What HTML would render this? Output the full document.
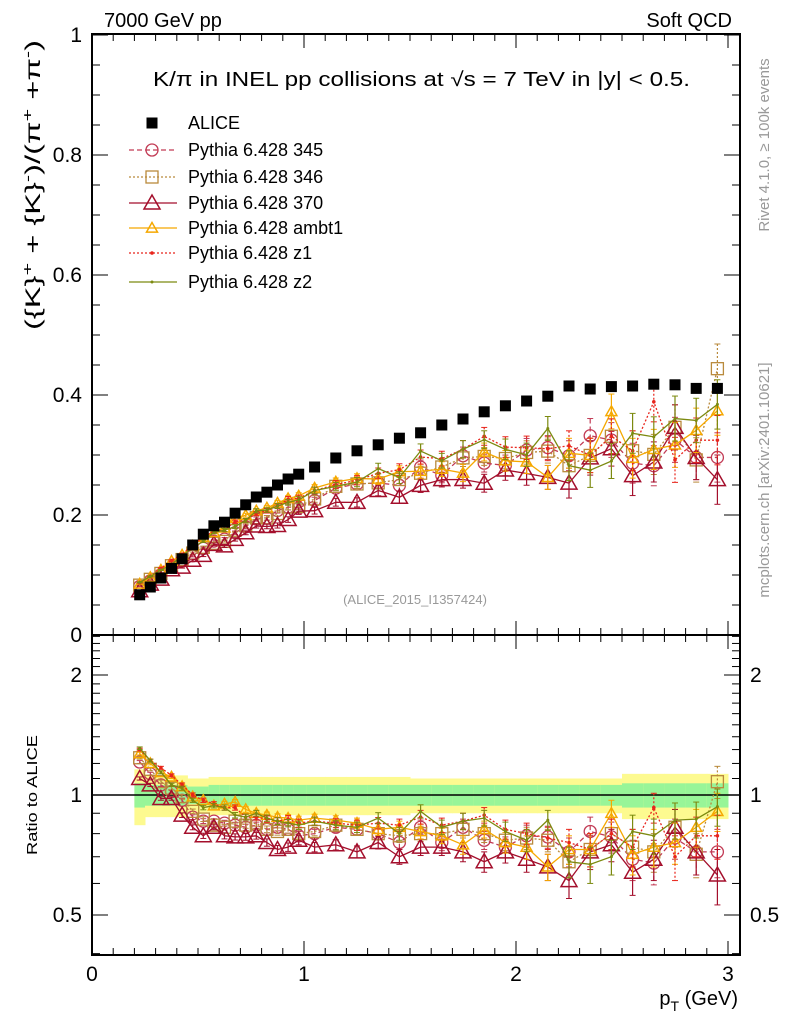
<!DOCTYPE html>
<html><head><meta charset="utf-8"><style>
html,body{margin:0;padding:0;background:#fff}
svg{display:block;font-family:"Liberation Sans",sans-serif}
</style></head><body>
<svg id="chart" width="786" height="1024" viewBox="0 0 786 1024" xmlns="http://www.w3.org/2000/svg">
<defs>
<clipPath id="clipMain"><rect x="92" y="34" width="648" height="601"/></clipPath>
<clipPath id="clipRatio"><rect x="92" y="635" width="648" height="320"/></clipPath>
</defs>
<g id="bands" clip-path="url(#clipRatio)"></g>
<g id="ticks"></g>
<line x1="92" y1="795" x2="740" y2="795" stroke="#000" stroke-width="1.5"/>
<g id="marksMain" clip-path="url(#clipMain)"></g>
<g id="marksRatio" clip-path="url(#clipRatio)"></g>
<rect x="92" y="34" width="648" height="601" fill="none" stroke="#000" stroke-width="2"/>
<rect x="92" y="635" width="648" height="320" fill="none" stroke="#000" stroke-width="2"/>
<text x="104" y="27" font-size="20">7000 GeV pp</text>
<text x="732" y="27" font-size="20" text-anchor="end">Soft QCD</text>
<text x="153" y="86" font-size="20" textLength="537" lengthAdjust="spacingAndGlyphs">K/π in INEL pp collisions at √s =  7 TeV in |y| &lt; 0.5.</text>
<text x="415" y="604" font-size="13" fill="#999" text-anchor="middle">(ALICE_2015_I1357424)</text>
<text transform="translate(40,185) rotate(-90)" font-size="21" text-anchor="middle" textLength="290" lengthAdjust="spacingAndGlyphs">({K}<tspan dy="-8" font-size="14">+</tspan><tspan dy="8"> + {K}</tspan><tspan dy="-8" font-size="14">-</tspan><tspan dy="8">)/(π</tspan><tspan dy="-8" font-size="14">+</tspan><tspan dy="8"> +π</tspan><tspan dy="-8" font-size="14">-</tspan><tspan dy="8">)</tspan></text>
<text transform="translate(37,795) rotate(-90)" font-size="15" text-anchor="middle" textLength="120" lengthAdjust="spacingAndGlyphs">Ratio to ALICE</text>
<text x="738" y="1005" font-size="20" text-anchor="end">p<tspan dy="6" font-size="14">T</tspan><tspan dy="-6"> (GeV)</tspan></text>
<text transform="translate(769,145) rotate(-90)" font-size="15" fill="#999" text-anchor="middle">Rivet 4.1.0, ≥ 100k events</text>
<text transform="translate(769,480) rotate(-90)" font-size="15" fill="#999" text-anchor="middle">mcplots.cern.ch [arXiv:2401.10621]</text>
<g id="legend"></g>
</svg>
<script>
const xCenters=[0.225,0.275,0.325,0.375,0.425,0.475,0.525,0.575,0.625,0.675,0.725,0.775,0.825,0.875,0.925,0.975,1.05,1.15,1.25,1.35,1.45,1.55,1.65,1.75,1.85,1.95,2.05,2.15,2.25,2.35,2.45,2.55,2.65,2.75,2.85,2.95];
const aliceVals=[0.067,0.080,0.095,0.111,0.127,0.150,0.168,0.182,0.188,0.203,0.217,0.230,0.238,0.250,0.260,0.268,0.280,0.295,0.307,0.317,0.328,0.337,0.350,0.360,0.372,0.382,0.390,0.398,0.415,0.410,0.414,0.415,0.418,0.417,0.411,0.411];
const bandYellow=[0.16,0.12,0.12,0.12,0.12,0.10,0.10,0.11,0.11,0.11,0.11,0.11,0.11,0.11,0.11,0.11,0.11,0.11,0.11,0.11,0.11,0.10,0.10,0.10,0.10,0.10,0.10,0.10,0.10,0.10,0.10,0.13,0.13,0.13,0.13,0.13];
const bandGreen=[0.07,0.06,0.06,0.06,0.06,0.05,0.05,0.06,0.06,0.06,0.06,0.06,0.06,0.06,0.06,0.06,0.06,0.06,0.06,0.06,0.06,0.06,0.06,0.06,0.06,0.06,0.06,0.06,0.06,0.06,0.06,0.07,0.07,0.07,0.07,0.07];
const mcErr=[0.01,0.01,0.01,0.01,0.012,0.012,0.012,0.012,0.014,0.014,0.015,0.015,0.016,0.017,0.018,0.02,0.02,0.022,0.025,0.028,0.03,0.035,0.035,0.04,0.04,0.045,0.05,0.05,0.06,0.07,0.07,0.08,0.08,0.09,0.09,0.1];
const r345=[1.21,1.13,1.06,1.02,0.97,0.88,0.86,0.86,0.85,0.84,0.83,0.84,0.82,0.83,0.82,0.79,0.80,0.83,0.82,0.80,0.76,0.83,0.76,0.83,0.77,0.74,0.79,0.785,0.72,0.81,0.785,0.69,0.675,0.78,0.72,0.72];
const r346=[1.24,1.16,1.08,1.04,0.99,0.91,0.87,0.84,0.83,0.86,0.84,0.85,0.82,0.81,0.82,0.80,0.81,0.84,0.82,0.80,0.79,0.80,0.80,0.82,0.80,0.77,0.78,0.77,0.68,0.73,0.80,0.74,0.72,0.83,0.71,1.08];
const r370=[1.10,1.06,0.98,0.98,0.89,0.83,0.79,0.83,0.79,0.785,0.785,0.79,0.76,0.73,0.74,0.77,0.74,0.75,0.72,0.76,0.70,0.74,0.74,0.72,0.68,0.72,0.69,0.66,0.61,0.72,0.75,0.64,0.69,0.83,0.72,0.63];
const rAmbt1=[1.27,1.20,1.14,1.11,1.05,0.99,0.97,0.94,0.95,0.96,0.92,0.90,0.89,0.88,0.875,0.865,0.875,0.865,0.85,0.82,0.83,0.81,0.79,0.75,0.82,0.76,0.74,0.66,0.73,0.73,0.90,0.71,0.74,0.76,0.83,0.91];
const rZ1=[1.30,1.22,1.17,1.12,1.06,1.00,0.97,0.95,0.93,0.93,0.88,0.88,0.87,0.86,0.87,0.85,0.86,0.85,0.84,0.85,0.84,0.88,0.84,0.86,0.89,0.82,0.80,0.78,0.76,0.73,0.80,0.74,0.93,0.70,0.79,0.79];
const rZ2=[1.31,1.22,1.14,1.06,1.04,0.97,0.93,0.94,0.93,0.89,0.88,0.90,0.875,0.86,0.85,0.84,0.86,0.84,0.83,0.875,0.80,0.91,0.83,0.86,0.875,0.81,0.77,0.865,0.68,0.67,0.70,0.81,0.79,0.865,0.87,0.935];
const seriesNames=["Pythia 6.428 345","Pythia 6.428 346","Pythia 6.428 370","Pythia 6.428 ambt1","Pythia 6.428 z1","Pythia 6.428 z2"];
const seriesKeys=["p345","p346","p370","ambt1","z1","z2"];
const seriesRatios=[r345,r346,r370,rAmbt1,rZ1,rZ2];
const mainTicksY=[0,0.2,0.4,0.6,0.8,1];
const mainTickLabels=["0","0.2","0.4","0.6","0.8","1"];
const ratioTicks=[0.5,1,2];
const ratioTickLabels=["0.5","1","2"];
const xTicks=[0,1,2,3];
const xTickLabels=["0","1","2","3"];

const styles=[
 {c:"#c23b55",dash:"5,3",m:"circle",s:6},
 {c:"#b98a3c",dash:"2,2",m:"square",s:6},
 {c:"#a40f2c",dash:"",m:"tri",s:8},
 {c:"#f5a800",dash:"",m:"tri",s:5.5},
 {c:"#e8251c",dash:"2,2",m:"dot",s:1.8},
 {c:"#7c8a10",dash:"",m:"dot",s:1.5}
];
const NS="http://www.w3.org/2000/svg";
const X=v=>92+212*v;
const Y=v=>635-600*v;
const R=v=>795-120*Math.log2(v);
function mk(tag,attrs,parent){const e=document.createElementNS(NS,tag);for(const k in attrs)e.setAttribute(k,attrs[k]);parent.appendChild(e);return e;}
function marker(g,type,x,y,s,c){
 let e;
 if(type==="circle")e=mk("circle",{cx:x,cy:y,r:s,fill:"none",stroke:c,"stroke-width":1.3},g);
 else if(type==="square")e=mk("rect",{x:x-s,y:y-s,width:2*s,height:2*s,fill:"none",stroke:c,"stroke-width":1.3},g);
 else if(type==="tri")e=mk("polygon",{points:`${x},${y-s} ${x-s},${y+s*0.75} ${x+s},${y+s*0.75}`,fill:"none",stroke:c,"stroke-width":1.5},g);
 else if(type==="sq-fill")e=mk("rect",{x:x-s,y:y-s,width:2*s,height:2*s,fill:c},g);
 else e=mk("circle",{cx:x,cy:y,r:s,fill:c},g);
 return e;
}
const ticks=document.getElementById("ticks");
const svg=document.getElementById("chart");
for(let i=0;i<=30;i++){const v=i/10;const x=X(v);const L=(i%10===0)?14:7;
 [[955,955-L],[635,635-L],[635,635+L],[34,34+L]].forEach(p=>mk("line",{x1:x,y1:p[0],x2:x,y2:p[1],stroke:"#000","stroke-width":1},ticks));}
xTicks.forEach((v,i)=>{const t=mk("text",{x:X(v),y:981,"font-size":21,"text-anchor":"middle"},svg);t.textContent=xTickLabels[i];

});
for(let i=0;i<=20;i++){const v=i/20;const y=Y(v);const L=(i%4===0)?16:8;
 mk("line",{x1:92,y1:y,x2:92+L,y2:y,stroke:"#000","stroke-width":1},ticks);
 mk("line",{x1:740,y1:y,x2:740-L,y2:y,stroke:"#000","stroke-width":1},ticks);}
mainTicksY.forEach((v,i)=>{const t=mk("text",{x:82,y:Y(v)+7,"font-size":21,"text-anchor":"end"},svg);t.textContent=mainTickLabels[i];

});
for(let k=4;k<=25;k++){const v=k/10;const y=R(v);if(y<636||y>954)continue;const maj=ratioTicks.some(t=>Math.abs(t-v)<1e-6);const L=maj?16:8;
 mk("line",{x1:92,y1:y,x2:92+L,y2:y,stroke:"#000","stroke-width":1},ticks);
 mk("line",{x1:740,y1:y,x2:740-L,y2:y,stroke:"#000","stroke-width":1},ticks);}
ratioTicks.forEach((v,i)=>{const t=mk("text",{x:82,y:R(v)+7,"font-size":21,"text-anchor":"end"},svg);t.textContent=ratioTickLabels[i];


const t2=mk("text",{x:750,y:R(v)+7,"font-size":21},svg);t2.textContent=ratioTickLabels[i];

});
const bands=document.getElementById("bands");
function edges(i){const lo=i===0?0.2:(xCenters[i-1]+xCenters[i])/2;const hi=i===xCenters.length-1?3.0:(xCenters[i]+xCenters[i+1])/2;return [lo,hi];}
xCenters.forEach((xc,i)=>{const [lo,hi]=edges(i);
 const y1=mk("rect",{x:X(lo),y:R(1+bandYellow[i]),width:X(hi)-X(lo)+0.5,height:R(1-bandYellow[i])-R(1+bandYellow[i]),fill:"#fdfa90"},bands);
 
 
 const g1=mk("rect",{x:X(lo),y:R(1+bandGreen[i]),width:X(hi)-X(lo)+0.5,height:R(1-bandGreen[i])-R(1+bandGreen[i]),fill:"#98f598"},bands);
 
 
});
const gm=document.getElementById("marksMain"),gr=document.getElementById("marksRatio");
seriesRatios.forEach((rs,si)=>{const st=styles[si];
 const vals=rs.map((r,i)=>r*aliceVals[i]);
 [[gm,vals,Y],[gr,rs,R]].forEach(([g,arr,F],pi)=>{
  const grp=mk("g",{},g);
  
  
  const pts=arr.map((v,i)=>X(xCenters[i])+","+F(v)).join(" ");
  mk("polyline",{points:pts,fill:"none",stroke:st.c,"stroke-width":1.3,"stroke-dasharray":st.dash},grp);
  arr.forEach((v,i)=>{const x=X(xCenters[i]);
   const hiV=pi?v+mcErr[i]:v+mcErr[i]*aliceVals[i];const loV=pi?v-mcErr[i]:v-mcErr[i]*aliceVals[i];
   mk("line",{x1:x,y1:F(hiV),x2:x,y2:F(loV),stroke:st.c,"stroke-width":1.2,"stroke-dasharray":st.dash},grp);
   mk("line",{x1:x-3,y1:F(hiV),x2:x+3,y2:F(hiV),stroke:st.c,"stroke-width":1},grp);
   mk("line",{x1:x-3,y1:F(loV),x2:x+3,y2:F(loV),stroke:st.c,"stroke-width":1},grp);
   const m=marker(grp,st.m,x,F(v),st.s,st.c);
   
   
  });
 });
});
const ga=mk("g",{},gm);


aliceVals.forEach((v,i)=>{const m=marker(ga,"sq-fill",X(xCenters[i]),Y(v),5.5,"#000");
 
 });
const lg=document.getElementById("legend");
const rowsY=[123,150,177,203,228,253,282];
const ent0=mk("g",{},lg);


marker(ent0,"sq-fill",152,rowsY[0],5.5,"#000");
mk("text",{x:188,y:rowsY[0]+6,"font-size":18},ent0).textContent="ALICE";
seriesNames.forEach((n,i)=>{const st=styles[i];const y=rowsY[i+1];
 const ent=mk("g",{},lg);
 
 
 mk("line",{x1:129,y1:y,x2:177,y2:y,stroke:st.c,"stroke-width":1.3,"stroke-dasharray":st.dash},ent);
 marker(ent,st.m,152,y,st.s,st.c);
 mk("text",{x:188,y:y+6,"font-size":18},ent).textContent=n;
});
</script>
</body></html>
